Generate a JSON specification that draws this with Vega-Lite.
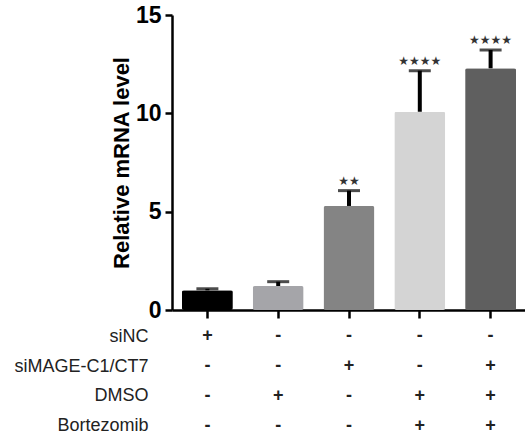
{
  "$schema": "https://vega.github.io/schema/vega-lite/v6.json",
  "padding": {"top": 4, "left": 13, "right": 0, "bottom": 0},
  "background": "white",
  "config": {"view": {"stroke": null}, "font": "Liberation Sans"},
  "datasets": {
    "bars": [
      {"grp": "G1", "value": 1.0, "upper": 1.08, "sig": ""},
      {"grp": "G2", "value": 1.22, "upper": 1.44, "sig": ""},
      {"grp": "G3", "value": 5.29, "upper": 6.07, "sig": "★★"},
      {"grp": "G4", "value": 10.08, "upper": 12.17, "sig": "★★★★"},
      {"grp": "G5", "value": 12.29, "upper": 13.22, "sig": "★★★★"}
    ],
    "table": [
      {"grp": "G1", "row": "siNC", "sign": "+"},
      {"grp": "G2", "row": "siNC", "sign": "-"},
      {"grp": "G3", "row": "siNC", "sign": "-"},
      {"grp": "G4", "row": "siNC", "sign": "-"},
      {"grp": "G5", "row": "siNC", "sign": "-"},
      {"grp": "G1", "row": "siMAGE-C1/CT7", "sign": "-"},
      {"grp": "G2", "row": "siMAGE-C1/CT7", "sign": "-"},
      {"grp": "G3", "row": "siMAGE-C1/CT7", "sign": "+"},
      {"grp": "G4", "row": "siMAGE-C1/CT7", "sign": "-"},
      {"grp": "G5", "row": "siMAGE-C1/CT7", "sign": "+"},
      {"grp": "G1", "row": "DMSO", "sign": "-"},
      {"grp": "G2", "row": "DMSO", "sign": "+"},
      {"grp": "G3", "row": "DMSO", "sign": "-"},
      {"grp": "G4", "row": "DMSO", "sign": "+"},
      {"grp": "G5", "row": "DMSO", "sign": "+"},
      {"grp": "G1", "row": "Bortezomib", "sign": "-"},
      {"grp": "G2", "row": "Bortezomib", "sign": "-"},
      {"grp": "G3", "row": "Bortezomib", "sign": "-"},
      {"grp": "G4", "row": "Bortezomib", "sign": "+"},
      {"grp": "G5", "row": "Bortezomib", "sign": "+"}
    ]
  },
  "spacing": 5,
  "resolve": {"scale": {"x": "independent", "y": "independent", "color": "independent"}},
  "vconcat": [
    {
      "width": 354,
      "height": 295,
      "data": {"name": "bars"},
      "encoding": {
        "x": {
          "field": "grp", "type": "nominal", "sort": null,
          "scale": {"paddingInner": 0.28, "paddingOuter": 0.14},
          "axis": {"labels": false, "title": null, "domainColor": "black", "domainWidth": 2.5, "tickColor": "black", "tickWidth": 2.5, "tickSize": 8}
        }
      },
      "layer": [
        {
          "mark": {"type": "bar", "cornerRadius": 2},
          "encoding": {
            "y": {
              "field": "value", "type": "quantitative",
              "scale": {"domain": [0, 15], "nice": false},
              "axis": {
                "values": [0, 5, 10, 15], "grid": false,
                "title": "Relative mRNA level", "titleFontSize": 22, "titleFontWeight": "bold", "titleColor": "black", "titlePadding": 2,
                "labelFontSize": 23, "labelFontWeight": "bold", "labelColor": "black", "labelPadding": 4,
                "domainColor": "black", "domainWidth": 2.5, "tickColor": "black", "tickWidth": 2.5, "tickSize": 7
              }
            },
            "color": {
              "field": "grp", "type": "nominal", "legend": null,
              "scale": {"domain": ["G1", "G2", "G3", "G4", "G5"], "range": ["#000000", "#a5a5a9", "#848484", "#d4d4d4", "#5f5f5f"]}
            }
          }
        },
        {
          "mark": {"type": "rule", "color": "black", "strokeWidth": 4},
          "encoding": {
            "y": {"field": "value", "type": "quantitative"},
            "y2": {"field": "upper"}
          }
        },
        {
          "mark": {"type": "tick", "color": "black", "size": 22, "thickness": 3},
          "encoding": {
            "y": {"field": "upper", "type": "quantitative"}
          }
        },
        {
          "mark": {"type": "text", "font": "DejaVu Sans", "fontSize": 12, "color": "#333333", "baseline": "middle", "dy": -10},
          "encoding": {
            "y": {"field": "upper", "type": "quantitative"},
            "text": {"field": "sig"}
          }
        }
      ]
    },
    {
      "width": 354,
      "height": 104,
      "data": {"name": "table"},
      "mark": {"type": "text", "fontSize": 18, "fontWeight": "bold", "color": "#222222", "baseline": "middle"},
      "encoding": {
        "x": {
          "field": "grp", "type": "nominal", "sort": null,
          "scale": {"domain": ["G1", "G2", "G3", "G4", "G5"], "paddingInner": 0.28, "paddingOuter": 0.14},
          "axis": null
        },
        "y": {
          "field": "row", "type": "nominal",
          "scale": {"type": "point", "domain": ["siNC", "siMAGE-C1/CT7", "DMSO", "Bortezomib"], "padding": 0.25},
          "axis": {
            "title": null, "domain": false, "ticks": false, "labelPadding": 24,
            "labelAlign": "right", "labelBaseline": "middle", "labelFlush": false,
            "labelFontSize": 18, "labelColor": "#222222"
          }
        },
        "text": {"field": "sign"}
      }
    }
  ]
}
